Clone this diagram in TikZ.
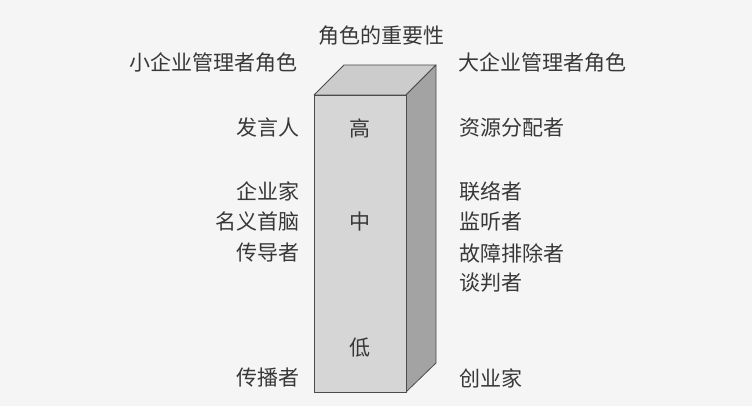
\documentclass[tikz,border=0pt]{standalone}
\usepackage{fontspec}
\setmainfont{Noto Sans CJK SC}
\begin{document}
\begin{tikzpicture}[x=1pt, y=-1pt,
                    every node/.style = {font=\fontsize{21}{21}\selectfont, text=black!78, inner sep=0pt},
                    lefttext/.style = {anchor=east},
                    righttext/.style = {anchor=west},
                    face/.style = {draw=black!70, line width=0.8pt, line join=round}]
\useasboundingbox[fill=black!4] (0,0) rectangle (752,406);

% the box
\coordinate (FTL) at (314,95);
\coordinate (FTR) at (406,95);
\coordinate (FBL) at (314,392);
\coordinate (FBR) at (406,392);
\coordinate (BTL) at (344,65);
\coordinate (BTR) at (436,65);
\coordinate (BBR) at (436,363);

\filldraw[face, fill=black!20] (FTL) -- (BTL) -- (BTR) -- (FTR) -- cycle;
\filldraw[face, fill=black!36] (FTR) -- (BTR) -- (BBR) -- (FBR) -- cycle;
\filldraw[face, fill=black!16] (FTL) rectangle (FBR);

% headings
\node (title) at (381,36) {角色的重要性};
\node [lefttext] (small) at (298,63) {小企业管理者角色};
\node [righttext] (large) at (458,63) {大企业管理者角色};

% levels
\node (high) at (360,128) {高};
\node (mid) at (360,222) {中};
\node (low) at (360,348) {低};

% small firms
\node [lefttext] (spokes) at (300,128) {发言人};
\node [lefttext] (entre) at (300,191) {企业家};
\node [lefttext] (figure) at (300,222) {名义首脑};
\node [lefttext] (leader) at (300,253) {传导者};
\node [lefttext] (dissem) at (300,378) {传播者};

% large firms
\node [righttext] (alloc) at (459,128) {资源分配者};
\node [righttext] (liaison) at (459,191) {联络者};
\node [righttext] (monitor) at (459,222) {监听者};
\node [righttext] (handler) at (459,253) {故障排除者};
\node [righttext] (negot) at (459,283) {谈判者};
\node [righttext] (founder) at (459,378) {创业家};
\end{tikzpicture}
\end{document}
